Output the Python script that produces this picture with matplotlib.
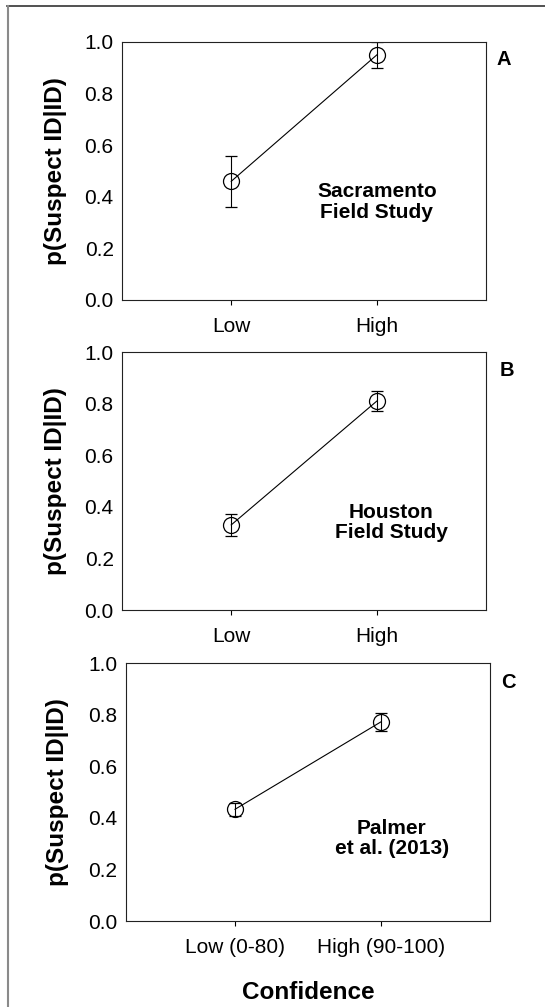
import matplotlib.pyplot as plt
from matplotlib.lines import Line2D

plt.rcParams['font.family'] = ['Liberation Sans', 'DejaVu Sans']

# Panel data
labels_ab = ['Low', 'High']
labels_c = ['Low (0-80)', 'High (90-100)']

sac_mean = [0.46, 0.95]
sac_err = [0.10, 0.05]

hou_mean = [0.33, 0.81]
hou_err = [0.042, 0.04]

pal_mean = [0.433, 0.772]
pal_err = [0.025, 0.036]

panels = [
    dict(mean=sac_mean, err=sac_err, ticks=labels_ab, letter='A',
         note='Sacramento\nField Study', note_xy=(1.0, 0.38),
         rect=[0.2239, 0.7021, 0.6679, 0.2562], lab=(1.049, 0.934), ylx=-0.151),
    dict(mean=hou_mean, err=hou_err, ticks=labels_ab, letter='B',
         note='Houston\nField Study', note_xy=(1.10, 0.34),
         rect=[0.2239, 0.3942, 0.6679, 0.2562], lab=(1.057, 0.93), ylx=-0.151),
    dict(mean=pal_mean, err=pal_err, ticks=labels_c, letter='C',
         note='Palmer\net al. (2013)', note_xy=(1.075, 0.32),
         rect=[0.2303, 0.0854, 0.6697, 0.2562], lab=(1.05, 0.926), ylx=-0.156),
]

fig = plt.figure(figsize=(5.45, 10.07), dpi=100)

for p in panels:
    ax = fig.add_axes(p['rect'])
    x = range(len(p['mean']))
    ax.errorbar(x, p['mean'], yerr=p['err'], color='black', linewidth=0.8,
                elinewidth=0.8, capsize=4.5, capthick=0.8,
                marker='o', markersize=11.5, markerfacecolor='none',
                markeredgecolor='black', markeredgewidth=0.9)
    ax.set_xlim(-0.75, 1.75)
    ax.set_ylim(0, 1.0)
    ax.set_xticks(list(x))
    ax.set_xticklabels(p['ticks'])
    ax.set_yticks([0.0, 0.2, 0.4, 0.6, 0.8, 1.0])
    ax.set_yticklabels(['0.0', '0.2', '0.4', '0.6', '0.8', '1.0'])
    ax.tick_params(axis='x', direction='out', length=3.5, width=0.8,
                   pad=9, labelsize=15)
    ax.tick_params(axis='y', length=0, pad=6, labelsize=15)
    for s in ax.spines.values():
        s.set_linewidth(0.8)
        s.set_color('#222222')
    ax.set_ylabel('p(Suspect ID|ID)', fontsize=17.5, fontweight='bold')
    ax.yaxis.set_label_coords(p['ylx'], 0.5)
    ax.text(p['note_xy'][0], p['note_xy'][1], p['note'], ha='center',
            va='center', fontsize=15, fontweight='bold', linespacing=1.1)
    ax.text(p['lab'][0], p['lab'][1], p['letter'], transform=ax.transAxes,
            ha='center', va='center', fontsize=14.5, fontweight='bold')
    if p['letter'] == 'C':
        ax.set_xlabel('Confidence', fontsize=17.5, fontweight='bold', labelpad=17)

# frame around the figure (top and left only)
fig.add_artist(Line2D([7 / 545, 1.0], [1 - 6 / 1007, 1 - 6 / 1007],
                      transform=fig.transFigure, color='#333333', linewidth=1.2))
fig.add_artist(Line2D([7.5 / 545, 7.5 / 545], [0.0, 1 - 6 / 1007],
                      transform=fig.transFigure, color='#8a8a8a', linewidth=1.5))

fig.savefig('out.png', dpi=100)
